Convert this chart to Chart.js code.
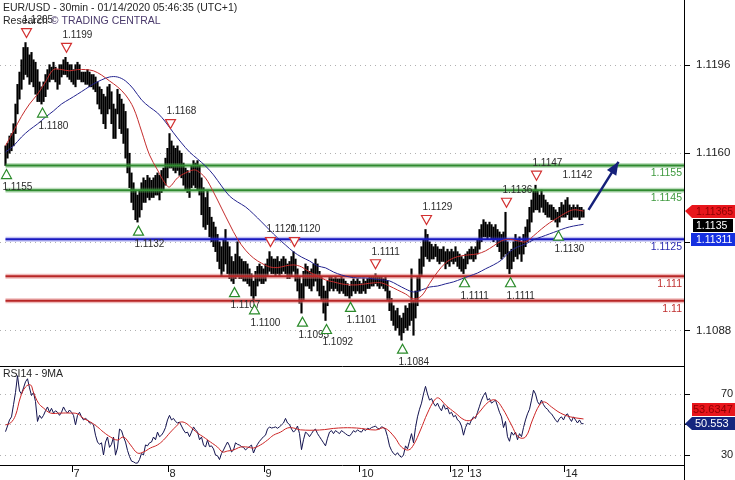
<!DOCTYPE html>
<html>
<head>
<meta charset="utf-8">
<title>EUR/USD 30min</title>
<script src="https://cdn.jsdelivr.net/npm/chart.js@4.4.1/dist/chart.umd.min.js"></script>
<style>
  html, body { margin: 0; padding: 0; background: #fff; }
  #wrap { position: relative; width: 735px; height: 480px; overflow: hidden; background: #fff; }
  #price { position: absolute; left: 0; top: 0; }
  #rsi { position: absolute; left: 0; top: 366px; }
</style>
</head>
<body>
<div id="wrap">
  <canvas id="price" width="735" height="366"></canvas>
  <canvas id="rsi" width="735" height="114"></canvas>
</div>
<script>
// ---- EUR/USD 30-minute bars, Jan 6 07:30 to Jan 14 05:00 (UTC+1); x = bar number ----
const barHigh = [
  1.1163,1.1164,1.1167,1.1168,1.1172,1.1180,1.1188,1.1193,1.1198,1.1203,
  1.1205,1.1203,1.1200,1.1201,1.1198,1.1197,1.1194,1.1189,1.1187,1.1189,
  1.1192,1.1194,1.1196,1.1195,1.1197,1.1195,1.1194,1.1196,1.1196,1.1198,
  1.1199,1.1197,1.1196,1.1196,1.1194,1.1196,1.1197,1.1196,1.1193,1.1193,
  1.1193,1.1194,1.1193,1.1192,1.1192,1.1191,1.1189,1.1187,1.1186,1.1184,
  1.1183,1.1187,1.1188,1.1185,1.1180,1.1178,1.1186,1.1184,1.1182,1.1180,
  1.1177,1.1170,1.1160,1.1152,1.1148,1.1145,1.1143,1.1145,1.1148,1.1150,
  1.1149,1.1151,1.1150,1.1149,1.1150,1.1151,1.1152,1.1151,1.1153,1.1154,
  1.1158,1.1162,1.1168,1.1165,1.1163,1.1162,1.1163,1.1161,1.1160,1.1156,
  1.1154,1.1153,1.1152,1.1155,1.1157,1.1156,1.1157,1.1155,1.1150,1.1146,
  1.1142,1.1145,1.1138,1.1134,1.1132,1.1130,1.1127,1.1124,1.1122,1.1125,
  1.1129,1.1124,1.1122,1.1118,1.1116,1.1119,1.1124,1.1118,1.1117,1.1116,
  1.1116,1.1115,1.1113,1.1111,1.1108,1.1112,1.1114,1.1115,1.1114,1.1113,
  1.1115,1.1117,1.1120,1.1118,1.1117,1.1117,1.1118,1.1116,1.1117,1.1118,
  1.1117,1.1115,1.1116,1.1118,1.1120,1.1117,1.1113,1.1110,1.1107,1.1112,
  1.1115,1.1114,1.1112,1.1113,1.1115,1.1117,1.1115,1.1112,1.1110,1.1106,
  1.1104,1.1108,1.1110,1.1110,1.1109,1.1110,1.1109,1.1109,1.1110,1.1109,
  1.1108,1.1107,1.1106,1.1108,1.1109,1.1108,1.1109,1.1108,1.1107,1.1109,
  1.1108,1.1109,1.1110,1.1110,1.1110,1.1111,1.1110,1.1110,1.1110,1.1109,
  1.1110,1.1108,1.1104,1.1101,1.1098,1.1096,1.1097,1.1094,1.1093,1.1095,
  1.1098,1.1097,1.1099,1.1113,1.1100,1.1104,1.1110,1.1117,1.1122,1.1125,
  1.1129,1.1127,1.1124,1.1123,1.1122,1.1123,1.1122,1.1121,1.1121,1.1122,
  1.1120,1.1121,1.1120,1.1121,1.1120,1.1122,1.1120,1.1119,1.1118,1.1117,
  1.1119,1.1120,1.1121,1.1122,1.1121,1.1122,1.1125,1.1129,1.1131,1.1133,
  1.1132,1.1131,1.1132,1.1131,1.1130,1.1131,1.1129,1.1128,1.1127,1.1128,
  1.1136,1.1124,1.1120,1.1121,1.1124,1.1127,1.1125,1.1126,1.1124,1.1127,
  1.1130,1.1133,1.1138,1.1141,1.1145,1.1147,1.1145,1.1143,1.1145,1.1143,
  1.1141,1.1140,1.1139,1.1139,1.1138,1.1137,1.1136,1.1138,1.1140,1.1139,
  1.1141,1.1142,1.1139,1.1138,1.1139,1.1138,1.1139,1.1138,1.1138,1.1137
];
const barLow = [
  1.1155,1.1158,1.1160,1.1161,1.1163,1.1168,1.1176,1.1182,1.1186,1.1190,
  1.1192,1.1191,1.1188,1.1189,1.1187,1.1184,1.1181,1.1181,1.1180,1.1181,
  1.1183,1.1186,1.1189,1.1190,1.1190,1.1189,1.1186,1.1188,1.1191,1.1192,
  1.1192,1.1191,1.1190,1.1189,1.1188,1.1187,1.1190,1.1190,1.1189,1.1189,
  1.1188,1.1188,1.1187,1.1187,1.1186,1.1185,1.1180,1.1178,1.1176,1.1172,
  1.1170,1.1176,1.1178,1.1172,1.1166,1.1166,1.1176,1.1170,1.1168,1.1164,
  1.1158,1.1152,1.1146,1.1140,1.1137,1.1133,1.1132,1.1134,1.1137,1.1140,
  1.1140,1.1142,1.1141,1.1142,1.1142,1.1143,1.1143,1.1141,1.1144,1.1145,
  1.1147,1.1150,1.1154,1.1154,1.1153,1.1152,1.1153,1.1151,1.1150,1.1147,
  1.1145,1.1144,1.1142,1.1146,1.1147,1.1146,1.1145,1.1143,1.1135,1.1130,
  1.1129,1.1131,1.1126,1.1124,1.1122,1.1120,1.1116,1.1113,1.1110,1.1112,
  1.1115,1.1111,1.1109,1.1108,1.1107,1.1109,1.1110,1.1109,1.1109,1.1108,
  1.1108,1.1107,1.1106,1.1102,1.1100,1.1102,1.1106,1.1108,1.1107,1.1107,
  1.1108,1.1110,1.1112,1.1111,1.1111,1.1110,1.1111,1.1110,1.1111,1.1112,
  1.1111,1.1109,1.1109,1.1110,1.1112,1.1108,1.1104,1.1099,1.1095,1.1100,
  1.1106,1.1106,1.1105,1.1104,1.1106,1.1108,1.1104,1.1102,1.1100,1.1095,
  1.1092,1.1098,1.1104,1.1105,1.1104,1.1105,1.1104,1.1103,1.1104,1.1103,
  1.1102,1.1102,1.1101,1.1102,1.1104,1.1103,1.1104,1.1103,1.1103,1.1104,
  1.1103,1.1105,1.1105,1.1106,1.1106,1.1107,1.1106,1.1105,1.1106,1.1105,
  1.1104,1.1100,1.1096,1.1092,1.1090,1.1088,1.1089,1.1086,1.1084,1.1087,
  1.1089,1.1088,1.1090,1.1092,1.1086,1.1093,1.1098,1.1104,1.1110,1.1114,
  1.1118,1.1117,1.1116,1.1117,1.1117,1.1118,1.1116,1.1115,1.1116,1.1116,
  1.1113,1.1115,1.1114,1.1116,1.1115,1.1116,1.1114,1.1113,1.1112,1.1111,
  1.1113,1.1115,1.1117,1.1117,1.1116,1.1117,1.1119,1.1121,1.1124,1.1126,
  1.1126,1.1125,1.1126,1.1125,1.1124,1.1125,1.1122,1.1120,1.1117,1.1118,
  1.1119,1.1113,1.1111,1.1113,1.1116,1.1118,1.1117,1.1119,1.1116,1.1119,
  1.1122,1.1124,1.1128,1.1132,1.1136,1.1137,1.1137,1.1136,1.1138,1.1136,
  1.1135,1.1134,1.1134,1.1133,1.1133,1.1132,1.1130,1.1132,1.1134,1.1134,
  1.1134,1.1135,1.1133,1.1133,1.1134,1.1134,1.1134,1.1133,1.1134,1.1134
];
const lastClose = 1.1135;

// fast (red) and slow (blue) moving averages
const maFastIdx = [0,4,8,12,16,20,24,28,32,36,40,44,48,52,56,60,64,68,72,76,80,82,86,90,94,96,100,104,108,112,116,120,124,128,132,136,140,144,148,152,156,160,164,168,172,176,180,184,188,192,196,200,204,208,212,216,220,224,228,232,236,240,244,248,252,256,260,264,268,272,276,280,284,289];
const maFastVal = [1.1163,1.1169,1.1175,1.1180,1.1184,1.1189,1.1194,1.1194,1.11935,1.1194,1.1194,1.11935,1.11918,1.11894,1.1187,1.11837,1.11784,1.1169,1.11593,1.11532,1.11475,1.11463,1.1150,1.1152,1.11532,1.11528,1.11499,1.11442,1.11377,1.11312,1.11251,1.11206,1.11174,1.11153,1.11138,1.11135,1.11142,1.11146,1.11138,1.11117,1.11101,1.11085,1.11077,1.11069,1.11065,1.11065,1.11069,1.11073,1.11073,1.1106,1.11044,1.11028,1.11008,1.1102,1.1107,1.11117,1.11154,1.11174,1.11183,1.11187,1.11191,1.11203,1.11223,1.11244,1.1125,1.11244,1.1124,1.11264,1.11292,1.11317,1.11337,1.11357,1.1137,1.11365];
const maSlowIdx = [0,4,8,12,16,20,24,28,32,36,40,44,48,52,56,60,64,68,72,76,80,84,88,92,96,100,104,108,112,116,120,124,128,132,136,140,144,148,152,156,160,164,168,172,176,180,184,188,192,196,200,204,208,212,216,220,224,228,232,236,240,244,248,252,256,260,264,268,272,276,280,284,289];
const maSlowVal = [1.11605,1.1163,1.11666,1.11695,1.11719,1.11747,1.11772,1.1180,1.1182,1.1184,1.11861,1.11882,1.11898,1.1191,1.1191,1.11894,1.11861,1.11817,1.11788,1.11764,1.11727,1.11683,1.11642,1.11605,1.11577,1.11548,1.11512,1.11467,1.11426,1.11402,1.11382,1.11353,1.11321,1.11288,1.11256,1.11227,1.11199,1.11178,1.11162,1.11142,1.11134,1.11117,1.11105,1.11097,1.11093,1.11093,1.11089,1.11085,1.11081,1.11065,1.11048,1.11036,1.11044,1.11056,1.1106,1.11069,1.11077,1.11089,1.11101,1.11113,1.1113,1.11146,1.11166,1.11199,1.11219,1.11231,1.11248,1.1126,1.11272,1.11284,1.11296,1.11304,1.11311];

// RSI(14) per bar and its 9-period average
const rsiVal = [
  45.3,49,53,55,63,71,82,72,70,74,
  78,80,74,69,71,65,52,56,54,56,
  59,61.5,58,60.6,57.5,59,58,56,58,61.5,
  59,57.5,59.5,58,56,49.7,56,58,55,53,
  54,53,51,51,49.7,43,38.5,37,38,30,
  38.5,41.8,35,37,41.8,30,34.6,47,46,41.8,
  38.5,33,29,26,25.5,24.7,24.7,27,31,30,
  36.6,36,38,38.5,41.8,40,45,42,43,45,
  48,53,56,53,54,52,51,51.6,49,46.4,
  44.5,45,42,45,48.4,46.5,45,40,41.8,36.6,
  35.2,39.8,35.5,36,34,30,29.5,27,31,33.3,
  36,38.5,36,32,33.3,38,37,36.5,35.5,35,
  33.3,34.5,35.5,36.5,31.3,34.6,37,39,40.5,42,
  43,47,48.4,47.7,48,48.4,47.5,48.5,49.7,51,
  54,51,50,47,45,46.4,49,44,33.5,40,
  45,44,42,44,46,47,44,42,40,38,
  36,41,45,46,44,46,45,44,46,45,
  44,43,42.5,44,46,45,46.5,45.5,45,47,
  46,47.5,47,48,48.5,49,47.5,47,48.5,48,
  46.5,42,36,33,31,30,31.5,29.5,28.5,30,
  36,34,39,44,38,48,55,60,64,70,
  75,70,66,67,64,62,64,61,59,63,
  60,61,57,58,55,56,53,52,49,43,
  48,51,50,53,55,54,58,62,66,69,
  71,66,67,64,65,66,62,58,55,48,
  52,42,39,45,43,45,40,44,42,48,
  53,57,60,66,72.5,70,65,63,66,63,
  61,60,58,57,55,53,51.5,54,55,53,
  56,57,54,52,55,53,51,53,50.5,50.553
];
const rsiMaIdx = [0,2.5,5,7.5,10,12.5,14,16.5,19,22.5,27.5,32.5,36,39,42.5,46,49,52.5,56,59,62.5,66,69,72.5,76,79,82.5,86,87.5,90,92.5,96,99,102.5,106,108.5,111,114,117.5,121,124,127.5,131,134,137.5,141,144,147.5,157,166.5,175.5,185,189.5,194.5,198,201.5,204,207.5,211,214.5,216.5,220,225,229.5,233,236.5,241.5,245,248.5,253,256.5,260,263.5,267,269.5,273,277.5,282.5,289];
const rsiMaVal = [49.7,51,56,68,74.6,76,71,64,60.8,57.5,57.5,57.5,57,54,51.6,48.4,45,41.8,39.8,41.8,36.6,31.3,32,34.6,36.6,39.8,45,49.7,51.6,51,48.4,44.4,41.8,38.5,35.2,32,32.6,33.3,35.2,35.2,34.6,36.6,39.8,43,45,47.7,47.7,46.5,46.4,47.7,47.7,46.4,47.7,41.8,35.2,33.3,36.6,46.4,57.5,66,67.4,62.8,57.5,53,53,57.5,64.8,66,60.6,49.7,41.8,41.8,53,62.8,64.8,61.5,57.5,55,53.6347];

// axis ticks
const priceTicks = [1.1088, 1.1124, 1.1160, 1.1196];
const priceTickText = ['1.1088', '', '1.1160', '1.1196'];
const rsiTicks = [30, 50, 70];
const rsiTickText = ['30', '', '70'];
const dayTickIdx = [33, 81, 129, 177, 222, 231, 279];
const dayTickText = ['7', '8', '9', '10', '12', '13', '14'];

// resistance / pivot / support levels
const levelVals = [1.1155, 1.1145, 1.1125, 1.1110, 1.1100];
const levelText = ['1.1155', '1.1145', '1.1125', '1.111', '1.11'];

// swing highs and lows
const peakIdx = [10, 30, 82, 132, 144, 185, 210, 250, 265];
const peakVal = [1.1205, 1.1199, 1.1168, 1.1120, 1.1120, 1.1111, 1.1129, 1.1136, 1.1147];
const troughIdx = [0, 18, 66, 114, 124, 148, 160, 172, 198, 229, 252, 276];
const troughVal = [1.1155, 1.1180, 1.1132, 1.1107, 1.1100, 1.1095, 1.1092, 1.1101, 1.1084, 1.1111, 1.1111, 1.1130];
const openHighIdx = [281];
const openHighVal = [1.1142];

// expected path
const arrowIdx = [291.5, 306.5];
const arrowVal = [1.1137, 1.11565];

// ---- styling ----
const FONT = "'Liberation Sans', Arial, Helvetica, sans-serif";
const X_MIN = -2.75, X_MAX = 339.25, AXIS_W = 51;
const levelCore = ['#2f8a2f', '#2f8a2f', '#1818c0', '#b82626', '#b82626'];
const levelHalo = ['rgba(70,160,70,0.35)', 'rgba(70,160,70,0.35)', 'rgba(60,60,220,0.3)', 'rgba(225,120,120,0.5)', 'rgba(225,120,120,0.5)'];
const levelTextColor = ['#3f9a3f', '#3f9a3f', '#2a2ab0', '#c03030', '#c03030'];

function dotLine(ctx, x0, x1, y) {
  ctx.save();
  ctx.strokeStyle = '#b0b0b0';
  ctx.lineWidth = 1;
  ctx.setLineDash([1, 4]);
  ctx.beginPath();
  const yy = Math.round(y) + 0.5;
  ctx.moveTo(x0, yy); ctx.lineTo(x1, yy);
  ctx.stroke();
  ctx.restore();
}

function hLine(ctx, x0, x1, y) {
  ctx.beginPath();
  ctx.moveTo(x0, Math.round(y) + 0.5); ctx.lineTo(x1, Math.round(y) + 0.5);
  ctx.stroke();
}
function vLine(ctx, x, y0, y1) {
  ctx.beginPath();
  ctx.moveTo(Math.round(x) + 0.5, y0); ctx.lineTo(Math.round(x) + 0.5, y1);
  ctx.stroke();
}

function valueBox(ctx, o) {
  const top = Math.round(o.yc - o.h / 2);
  ctx.fillStyle = o.fill;
  ctx.beginPath();
  if (o.tip !== undefined) {
    ctx.moveTo(o.tip, o.yc);
    ctx.lineTo(o.x0, top);
    ctx.lineTo(o.x1, top);
    ctx.lineTo(o.x1, top + o.h);
    ctx.lineTo(o.x0, top + o.h);
    ctx.closePath();
  } else {
    ctx.rect(o.x0, top, o.x1 - o.x0, o.h);
  }
  ctx.fill();
  ctx.fillStyle = o.color;
  ctx.font = o.font;
  ctx.textAlign = 'left';
  ctx.textBaseline = 'middle';
  ctx.fillText(o.text, o.tx, top + o.h / 2 + 0.5);
}

const pricePanel = {
  id: 'pricePanel',
  beforeDatasetsDraw(chart) {
    const { ctx, chartArea: a, scales: { y } } = chart;
    priceTicks.forEach(v => dotLine(ctx, a.left, a.right, y.getPixelForValue(v)));
  },
  afterDraw(chart) {
    const { ctx, chartArea: a, scales: { x, y } } = chart;
    ctx.save();

    // swing high markers
    ctx.font = `10px ${FONT}`;
    ctx.textAlign = 'left';
    ctx.textBaseline = 'middle';
    peakIdx.forEach((idx, k) => {
      const px = Math.round(x.getPixelForValue(idx)) + 0.5;
      const py = y.getPixelForValue(peakVal[k]);
      ctx.beginPath();
      ctx.moveTo(px, py - 5); ctx.lineTo(px - 5, py - 14); ctx.lineTo(px + 5, py - 14); ctx.closePath();
      ctx.fillStyle = '#fff'; ctx.fill();
      ctx.strokeStyle = '#d23030'; ctx.lineWidth = 1.2; ctx.stroke();
      ctx.fillStyle = '#2b2b2b';
      ctx.fillText(peakVal[k].toFixed(4), px - 4, py - 22);
    });
    openHighIdx.forEach((idx, k) => {
      const px = x.getPixelForValue(idx);
      const py = y.getPixelForValue(openHighVal[k]);
      ctx.fillStyle = '#2b2b2b';
      ctx.fillText(openHighVal[k].toFixed(4), px - 5, py - 22);
    });
    // swing low markers
    troughIdx.forEach((idx, k) => {
      const px = Math.round(x.getPixelForValue(idx)) + 0.5;
      const py = y.getPixelForValue(troughVal[k]);
      ctx.beginPath();
      ctx.moveTo(px, py + 4); ctx.lineTo(px - 5, py + 13); ctx.lineTo(px + 5, py + 13); ctx.closePath();
      ctx.fillStyle = '#fff'; ctx.fill();
      ctx.strokeStyle = '#2a8a2a'; ctx.lineWidth = 1.2; ctx.stroke();
      ctx.fillStyle = '#2b2b2b';
      ctx.fillText(troughVal[k].toFixed(4), Math.max(2, px - 4), py + 22);
    });

    // level captions
    ctx.font = `10.5px ${FONT}`;
    ctx.textAlign = 'right';
    levelVals.forEach((v, k) => {
      ctx.fillStyle = levelTextColor[k];
      ctx.fillText(levelText[k], a.right - 2, y.getPixelForValue(v) + 8);
    });

    // arrow head
    const ax0 = x.getPixelForValue(arrowIdx[0]), ay0 = y.getPixelForValue(arrowVal[0]);
    const ax1 = x.getPixelForValue(arrowIdx[1]), ay1 = y.getPixelForValue(arrowVal[1]);
    const ang = Math.atan2(ay1 - ay0, ax1 - ax0);
    ctx.fillStyle = '#15207a';
    ctx.beginPath();
    ctx.moveTo(ax1, ay1);
    ctx.lineTo(ax1 - 13 * Math.cos(ang) + 5.5 * Math.sin(ang), ay1 - 13 * Math.sin(ang) - 5.5 * Math.cos(ang));
    ctx.lineTo(ax1 - 13 * Math.cos(ang) - 5.5 * Math.sin(ang), ay1 - 13 * Math.sin(ang) + 5.5 * Math.cos(ang));
    ctx.closePath();
    ctx.fill();

    // axis line and tick marks
    ctx.strokeStyle = '#000';
    ctx.lineWidth = 1;
    vLine(ctx, a.right, 0, chart.height);
    priceTicks.forEach(v => hLine(ctx, a.right, a.right + 6, y.getPixelForValue(v)));

    // latest values: fast average, last price, slow average
    const boxFont = `10.5px ${FONT}`;
    const yFast = y.getPixelForValue(maFastVal[maFastVal.length - 1]);
    const yClose = Math.max(y.getPixelForValue(lastClose), yFast + 14);
    const ySlow = Math.max(y.getPixelForValue(maSlowVal[maSlowVal.length - 1]), yClose + 14);
    valueBox(ctx, { tip: a.right + 1, x0: a.right + 8, x1: 735, yc: yFast, h: 13, fill: '#e8161c', color: '#8e0000', font: boxFont, tx: a.right + 12, text: maFastVal[maFastVal.length - 1].toFixed(5) });
    valueBox(ctx, { x0: a.right + 9, x1: 733, yc: yClose, h: 13, fill: '#000', color: '#fff', font: boxFont, tx: a.right + 12, text: lastClose.toFixed(4) });
    valueBox(ctx, { x0: a.right + 7, x1: 735, yc: ySlow, h: 13, fill: '#1530e0', color: '#fff', font: boxFont, tx: a.right + 12, text: maSlowVal[maSlowVal.length - 1].toFixed(5) });

    // heading
    ctx.font = `10.5px ${FONT}`;
    ctx.textAlign = 'left';
    ctx.textBaseline = 'middle';
    ctx.fillStyle = '#262626';
    ctx.fillText('EUR/USD - 30min - 01/14/2020 05:46:35 (UTC+1)', 3, 8);
    ctx.fillText('Research ', 3, 21);
    const w = ctx.measureText('Research ').width;
    ctx.fillStyle = '#4a3a6c';
    ctx.fillText('\u00A9 TRADING CENTRAL', 3 + w, 21);
    ctx.restore();
  }
};

const rsiPanel = {
  id: 'rsiPanel',
  beforeDatasetsDraw(chart) {
    const { ctx, chartArea: a, scales: { y } } = chart;
    rsiTicks.forEach(v => dotLine(ctx, a.left, a.right, y.getPixelForValue(v)));
  },
  afterDraw(chart) {
    const { ctx, chartArea: a, scales: { x, y } } = chart;
    ctx.save();
    ctx.strokeStyle = '#000';
    ctx.lineWidth = 1;
    hLine(ctx, 0, a.right + 1, a.top);
    hLine(ctx, 0, a.right + 1, a.bottom);
    vLine(ctx, a.right, 0, chart.height);
    dayTickIdx.forEach(v => vLine(ctx, x.getPixelForValue(v), a.bottom, a.bottom + 7));
    rsiTicks.forEach(v => hLine(ctx, a.right, a.right + 6, y.getPixelForValue(v)));

    ctx.font = `10.5px ${FONT}`;
    ctx.textAlign = 'left';
    ctx.textBaseline = 'middle';
    ctx.fillStyle = '#262626';
    ctx.fillText('RSI14 - 9MA', 3, 8);

    const boxFont = `11px ${FONT}`;
    const rsiLast = rsiVal[rsiVal.length - 1];
    const maLast = rsiMaVal[rsiMaVal.length - 1];
    const yRsi = y.getPixelForValue(rsiLast);
    const yMa = Math.min(y.getPixelForValue(maLast), yRsi - 14);
    valueBox(ctx, { x0: a.right + 8, x1: 735, yc: yMa, h: 13, fill: '#e8161c', color: '#8e0000', font: boxFont, tx: a.right + 9, text: maLast.toFixed(4) });
    valueBox(ctx, { tip: a.right + 1, x0: a.right + 8, x1: 735, yc: yRsi, h: 13, fill: '#15267e', color: '#fff', font: boxFont, tx: a.right + 11, text: rsiLast.toFixed(3) });
    ctx.restore();
  }
};

const common = {
  responsive: false,
  animation: false,
  devicePixelRatio: 1,
  events: [],
  layout: { padding: 0 },
  plugins: { legend: { display: false }, tooltip: { enabled: false }, title: { display: false } }
};

new Chart(document.getElementById('price'), {
  type: 'bar',
  data: {
    datasets: [
      {
        type: 'line', order: 1,
        data: arrowIdx.map((v, i) => ({ x: v, y: arrowVal[i] })),
        borderColor: '#15207a', borderWidth: 2.5, pointRadius: 0, tension: 0
      },
      {
        type: 'line', order: 2,
        data: maFastIdx.map((v, i) => ({ x: v, y: maFastVal[i] })),
        borderColor: '#c42c2c', borderWidth: 1, pointRadius: 0, tension: 0.35
      },
      {
        type: 'line', order: 3,
        data: maSlowIdx.map((v, i) => ({ x: v, y: maSlowVal[i] })),
        borderColor: '#23238e', borderWidth: 1, pointRadius: 0, tension: 0.35
      },
      ...levelVals.map((v, k) => ({
        type: 'line', order: 5,
        data: [{ x: 0, y: v }, { x: X_MAX, y: v }],
        borderColor: levelCore[k], borderWidth: 2, pointRadius: 0
      })),
      ...levelVals.map((v, k) => ({
        type: 'line', order: 6,
        data: [{ x: 0, y: v }, { x: X_MAX, y: v }],
        borderColor: levelHalo[k], borderWidth: 5, pointRadius: 0
      })),
      {
        type: 'bar', order: 10,
        data: barHigh.map((h, i) => ({ x: i, y: [barLow[i], h] })),
        backgroundColor: '#000', borderWidth: 0, barThickness: 1.5
      }
    ]
  },
  options: {
    ...common,
    scales: {
      x: { type: 'linear', min: X_MIN, max: X_MAX, offset: false, display: false },
      y: {
        type: 'linear', position: 'right', min: 1.10735, max: 1.12223,
        grid: { display: false, drawTicks: false }, border: { display: false },
        afterBuildTicks: s => { s.ticks = priceTicks.map(v => ({ value: v })); },
        afterFit: s => { s.width = AXIS_W; s.paddingTop = 0; s.paddingBottom = 0; },
        ticks: {
          autoSkip: false, padding: 12, crossAlign: 'near', color: '#222',
          font: { family: FONT, size: 11.5 },
          callback: (v, i) => priceTickText[i]
        }
      }
    }
  },
  plugins: [pricePanel]
});

new Chart(document.getElementById('rsi'), {
  type: 'line',
  data: {
    datasets: [
      {
        order: 1,
        data: rsiMaIdx.map((v, i) => ({ x: v, y: rsiMaVal[i] })),
        borderColor: '#cc2424', borderWidth: 1, pointRadius: 0, tension: 0.4
      },
      {
        order: 2,
        data: rsiVal.map((v, i) => ({ x: i, y: v })),
        borderColor: '#12124e', borderWidth: 1, pointRadius: 0, tension: 0
      }
    ]
  },
  options: {
    ...common,
    scales: {
      x: {
        type: 'linear', position: 'bottom', min: X_MIN, max: X_MAX, offset: false,
        grid: { display: false, drawTicks: false }, border: { display: false },
        afterBuildTicks: s => { s.ticks = dayTickIdx.map(v => ({ value: v })); },
        afterFit: s => { s.height = 15; s.paddingLeft = 0; s.paddingRight = 0; },
        ticks: {
          autoSkip: false, maxRotation: 0, minRotation: 0, align: 'start', labelOffset: 2, padding: 3,
          color: '#222', font: { family: FONT, size: 11, lineHeight: 1 },
          callback: (v, i) => dayTickText[i]
        }
      },
      y: {
        type: 'linear', position: 'right', min: 23.44, max: 88.36,
        grid: { display: false, drawTicks: false }, border: { display: false },
        afterBuildTicks: s => { s.ticks = rsiTicks.map(v => ({ value: v })); },
        afterFit: s => { s.width = AXIS_W; s.paddingTop = 0; s.paddingBottom = 0; },
        ticks: {
          autoSkip: false, padding: 37, crossAlign: 'near', color: '#222',
          font: { family: FONT, size: 11 },
          callback: (v, i) => rsiTickText[i]
        }
      }
    }
  },
  plugins: [rsiPanel]
});
</script>
</body>
</html>
